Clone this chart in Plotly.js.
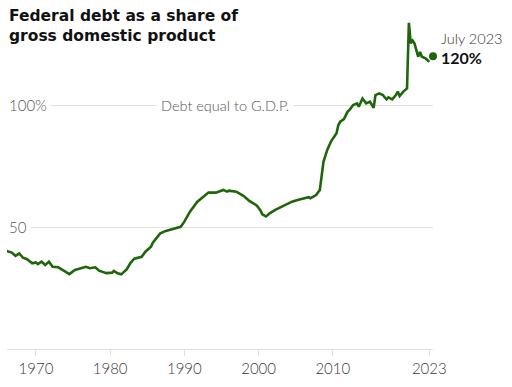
<!DOCTYPE html>
<html>
<head>
<meta charset="utf-8">
<script src="https://cdn.plot.ly/plotly-3.0.1.min.js"></script>
<style>
html,body{margin:0;padding:0;background:#fff;}
#chart{width:512px;height:387px;}
</style>
</head>
<body>
<div id="chart"></div>
<script>
// Federal debt as a share of GDP (percent)
const years = [
  1966.0, 1966.75, 1967.25, 1967.75, 1968.25, 1968.75, 1969.5, 1970.0, 1970.25, 1970.75,
  1971.25, 1971.75, 1972.25, 1973.0, 1973.75, 1974.5, 1975.25, 1976.0, 1976.75, 1977.25,
  1978.0, 1978.5, 1979.5, 1980.25, 1980.5, 1981.0, 1981.5, 1982.25, 1982.75, 1983.25,
  1983.75, 1984.25, 1984.75, 1985.5, 1985.75, 1986.75, 1987.5, 1988.25, 1989.5, 1990.0,
  1990.75, 1991.75, 1992.5, 1993.25, 1994.25, 1995.25, 1995.75, 1996.0, 1997.0, 1997.75,
  1998.0, 1998.75, 1999.75, 2000.25, 2000.5, 2001.0, 2001.5, 2002.25, 2003.25, 2004.5,
  2005.25, 2006.0, 2006.75, 2007.0, 2007.75, 2008.25, 2008.5, 2008.75, 2009.25, 2009.75,
  2010.5, 2010.75, 2011.0, 2011.5, 2012.0, 2012.25, 2012.75, 2013.25, 2013.5, 2014.0,
  2014.5, 2015.0, 2015.5, 2015.75, 2016.25, 2016.75, 2017.0, 2017.25, 2017.5, 2018.0,
  2018.5, 2018.75, 2019.0, 2019.5, 2020.0, 2020.25, 2020.5, 2020.75, 2021.0, 2021.5,
  2021.75, 2022.0, 2022.5, 2023.0
];
const debtPct = [
  40.2, 39.5, 38.2, 39.2, 37.4, 36.9, 35.1, 35.5, 34.8, 35.8,
  34.4, 35.8, 33.7, 33.5, 32.1, 30.7, 32.4, 33.1, 33.7, 33.1,
  33.5, 32.1, 31.1, 31.3, 32.0, 31.0, 30.6, 32.7, 35.3, 37.0,
  37.4, 37.8, 39.9, 41.9, 43.6, 47.4, 48.4, 49.0, 50.1, 52.2,
  56.3, 60.4, 62.2, 64.1, 64.1, 65.2, 64.5, 64.9, 64.5, 63.1,
  62.7, 60.7, 58.8, 56.8, 55.2, 54.3, 55.6, 57.0, 58.6, 60.4,
  61.1, 61.8, 62.2, 61.8, 63.1, 65.2, 70.6, 76.8, 81.6, 85.0,
  88.4, 91.8, 93.2, 94.2, 97.3, 98.0, 100.0, 100.7, 99.3, 102.7,
  100.7, 101.4, 98.9, 104.1, 104.8, 104.1, 103.1, 102.3, 103.1, 102.3,
  104.1, 105.5, 103.7, 105.5, 106.8, 133.7, 125.3, 126.4, 125.3, 119.8,
  121.8, 119.8, 119.1, 117.7
];
const latestYear = [2023.5];
const latestPct = [120];
const latestLabel = "July 2023";
const xTickVals = [1970, 1980, 1990, 2000, 2010, 2023];
const xTickText = ["1970", "1980", "1990", "2000", "2010", "2023"];
const yTickVals = [50, 100];
const yTickText = ["50", "100%"];
const refLabel = "Debt equal to G.D.P.";
const titleText = "Federal debt as a share of<br>gross domestic product";

const green = "#1f660a";
const sans = "Lato, 'Open Sans', sans-serif";
const labelFont = {family: sans, size: 15, color: "#555", weight: 300};

const traces = [
  {x: years, y: debtPct, type: "scatter", mode: "lines",
   line: {color: green, width: 2.6}, hoverinfo: "skip", cliponaxis: false},
  {x: latestYear, y: latestPct, type: "scatter", mode: "markers",
   marker: {color: green, size: 8}, hoverinfo: "skip", cliponaxis: false}
];

const annotations = [];
annotations.push({
  xref: "paper", yref: "paper", x: 0, y: 1, xanchor: "left", yanchor: "top",
  xshift: 0, yshift: 10, align: "left", showarrow: false, text: "<b>" + titleText + "</b>",
  font: {family: "'DejaVu Sans', sans-serif", size: 15.5, color: "#111"}
});
yTickVals.forEach((v, i) => {
  annotations.push({
    xref: "paper", yref: "y", x: 0, y: v, xanchor: "left", yanchor: "middle",
    text: yTickText[i], showarrow: false, bgcolor: "#fff", borderpad: 3,
    xshift: -2, font: labelFont
  });
});
annotations.push({
  xref: "x", yref: "y", x: 1995.5, y: 100, xanchor: "center", yanchor: "middle",
  text: refLabel, showarrow: false, bgcolor: "#fff", borderpad: 4,
  font: {family: sans, size: 14.5, color: "#555", weight: 300}
});
annotations.push({
  xref: "x", yref: "y", x: latestYear[0], y: latestPct[0], xanchor: "left", yanchor: "middle",
  text: latestLabel, showarrow: false, xshift: 6, yshift: 18,
  font: {family: sans, size: 14.5, color: "#333", weight: 300}
});
annotations.push({
  xref: "x", yref: "y", x: latestYear[0], y: latestPct[0], xanchor: "left", yanchor: "middle",
  text: "<b>" + latestPct[0] + "%</b>", showarrow: false, xshift: 6, yshift: -1,
  font: {family: sans, size: 16, color: "#111"}
});

const layout = {
  width: 512, height: 387,
  margin: {l: 7, r: 79, t: 15, b: 38},
  paper_bgcolor: "#fff", plot_bgcolor: "#fff",
  showlegend: false,
  xaxis: {
    range: [1966.1, 2023.5],
    tickvals: xTickVals, ticktext: xTickText,
    showgrid: false, zeroline: false,
    showline: true, linecolor: "#e0e0e0", linewidth: 1,
    ticks: "outside", ticklen: 6, tickcolor: "#e0e0e0", tickwidth: 1,
    tickfont: {family: sans, size: 15, color: "#3a3a3a", weight: 300},
    fixedrange: true
  },
  yaxis: {
    range: [0, 136.9],
    tickvals: yTickVals, showticklabels: false,
    showgrid: true, gridcolor: "#e0e0e0", gridwidth: 1,
    zeroline: false, showline: false, ticks: "",
    fixedrange: true
  },
  annotations: annotations
};

Plotly.newPlot("chart", traces, layout, {displayModeBar: false, staticPlot: true});
</script>
</body>
</html>
